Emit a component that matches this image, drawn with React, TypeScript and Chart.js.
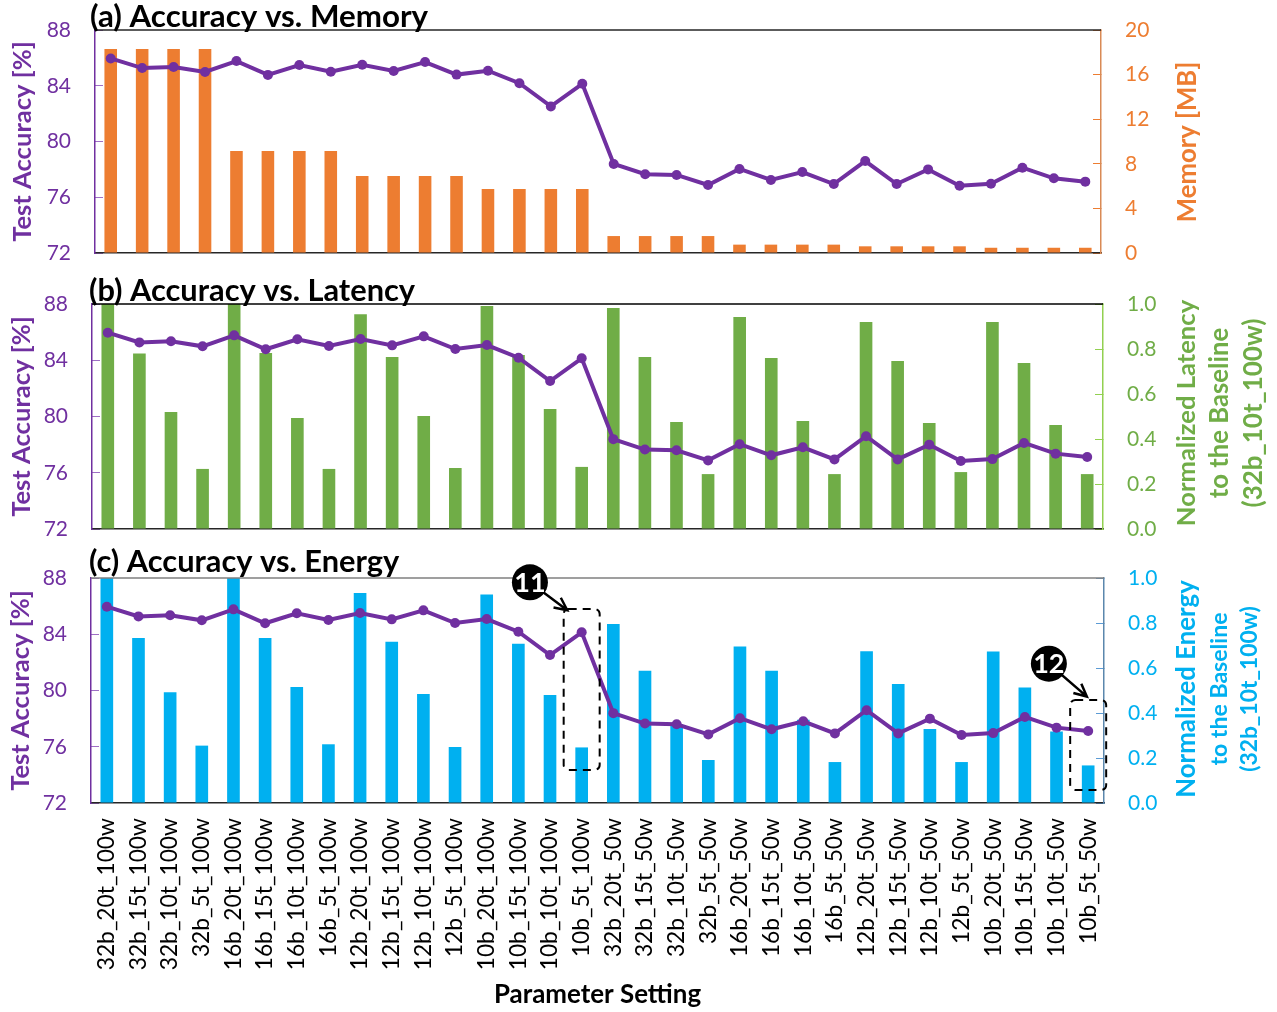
import React, { useEffect, useRef } from "react";
import { Chart, registerables } from "chart.js";

Chart.register(...registerables);

const FONT = "Lato";
const PURPLE = "#7030A0";
const ORANGE = "#ED7D31";
const GREEN = "#70AD47";
const BLUE = "#00B0F0";
const SHIFT = 60;

const categories = [
  "32b_20t_100w","32b_15t_100w","32b_10t_100w","32b_5t_100w",
  "16b_20t_100w","16b_15t_100w","16b_10t_100w","16b_5t_100w",
  "12b_20t_100w","12b_15t_100w","12b_10t_100w","12b_5t_100w",
  "10b_20t_100w","10b_15t_100w","10b_10t_100w","10b_5t_100w",
  "32b_20t_50w","32b_15t_50w","32b_10t_50w","32b_5t_50w",
  "16b_20t_50w","16b_15t_50w","16b_10t_50w","16b_5t_50w",
  "12b_20t_50w","12b_15t_50w","12b_10t_50w","12b_5t_50w",
  "10b_20t_50w","10b_15t_50w","10b_10t_50w","10b_5t_50w",
];

const accuracy = [
  85.96, 85.27, 85.35, 84.99, 85.77, 84.78, 85.49, 85.01,
  85.51, 85.06, 85.7, 84.8, 85.08, 84.18, 82.52, 84.14,
  78.39, 77.65, 77.6, 76.88, 78.03, 77.24, 77.81, 76.95,
  78.6, 76.95, 78.0, 76.83, 76.97, 78.12, 77.36, 77.12,
];

const memory = [
  18.3, 18.3, 18.3, 18.3, 9.15, 9.15, 9.15, 9.15,
  6.9, 6.9, 6.9, 6.9, 5.74, 5.74, 5.74, 5.74,
  1.52, 1.52, 1.52, 1.52, 0.75, 0.75, 0.75, 0.75,
  0.6, 0.6, 0.6, 0.6, 0.47, 0.47, 0.47, 0.47,
];

const latency = [
  1.0, 0.78, 0.52, 0.267, 1.0, 0.782, 0.493, 0.267,
  0.955, 0.764, 0.502, 0.271, 0.991, 0.773, 0.533, 0.276,
  0.982, 0.764, 0.476, 0.244, 0.942, 0.76, 0.48, 0.244,
  0.92, 0.747, 0.471, 0.253, 0.92, 0.738, 0.462, 0.244,
];

const energy = [
  1.0, 0.733, 0.492, 0.255, 1.0, 0.733, 0.516, 0.261,
  0.933, 0.717, 0.484, 0.249, 0.927, 0.708, 0.48, 0.247,
  0.796, 0.588, 0.35, 0.191, 0.696, 0.588, 0.37, 0.182,
  0.675, 0.529, 0.329, 0.182, 0.673, 0.513, 0.318, 0.167,
];

const panelTitles = ["(a) Accuracy vs. Memory", "(b) Accuracy vs. Latency", "(c) Accuracy vs. Energy"];
const leftAxisTitle = "Test Accuracy [%]";
const bottomAxisTitle = "Parameter Setting";
const memoryTitle = ["Memory [MB]"];
const latencyTitle = ["Normalized Latency", "to the Baseline", "(32b_10t_100w)"];
const energyTitle = ["Normalized Energy", "to the Baseline", "(32b_10t_100w)"];

type Callout = { label: string; cat: number; top: number; bottom: number; cx: number; cy: number; tipX: number; tipY: number };
const callouts: Callout[] = [
  { label: "11", cat: 15, top: 0.862, bottom: 0.147, cx: -51.75, cy: 0.981, tipX: -14.4, tipY: 0.857 },
  { label: "12", cat: 31, top: 0.458, bottom: 0.058, cx: -39.3, cy: 0.619, tipX: -1.3, tipY: 0.473 },
];

type Panel = {
  title: string; titleY: number; titleSize: number; titleX: number;
  left: number; right: number; top: number; bottom: number;
  bars: number[]; barColor: string; max: number; step: number; decimals: number;
  rightBorder: string; rightTick: string; topLine: string;
  rightColor: string;
  rightTitle: string[]; rightX: number[]; rightY: number; rightSize: number[];
  leftTitleTop: number;
  showX: boolean; callouts: Callout[];
};

const panels: Panel[] = [
  {
    title: panelTitles[0], titleY: 27, titleSize: 31.3, titleX: 90, left: 95, right: 1101, top: 30, bottom: 253,
    bars: memory, barColor: ORANGE, max: 20, step: 4, decimals: 0,
    rightBorder: "#D98A55", rightTick: ORANGE, topLine: "#262626", rightColor: ORANGE,
    rightTitle: memoryTitle, rightX: [1188], rightY: 142, rightSize: [25.7], leftTitleTop: 7,
    showX: false, callouts: [],
  },
  {
    title: panelTitles[1], titleY: 301, titleSize: 30.8, titleX: 89, left: 92, right: 1103, top: 304, bottom: 529,
    bars: latency, barColor: GREEN, max: 1, step: 0.2, decimals: 1,
    rightBorder: "#92D050", rightTick: "#92D050", topLine: "#000000", rightColor: GREEN,
    rightTitle: latencyTitle, rightX: [1187, 1220, 1254], rightY: 413, rightSize: [25.6, 25.7, 26], leftTitleTop: 6,
    showX: false, callouts: [],
  },
  {
    title: panelTitles[2], titleY: 572, titleSize: 30.8, titleX: 89, left: 91, right: 1104, top: 578, bottom: 803,
    bars: energy, barColor: BLUE, max: 1, step: 0.2, decimals: 1,
    rightBorder: "#5B87AD", rightTick: "#5B9BD5", topLine: "#7F7F7F", rightColor: BLUE,
    rightTitle: energyTitle, rightX: [1187, 1220, 1250], rightY: 689, rightSize: [25.8, 23.1, 22.8], leftTitleTop: 5,
    showX: true, callouts,
  },
];

const overlay = {
  id: "overlay",
  afterDraw(chart: any, _a: any, opts: any) {
    const p: Panel = opts.panel;
    const { ctx, chartArea, scales } = chart;
    ctx.save();
    ctx.strokeStyle = p.topLine;
    ctx.lineWidth = 1.5;
    ctx.beginPath();
    ctx.moveTo(chartArea.left, chartArea.top);
    ctx.lineTo(chartArea.right, chartArea.top);
    ctx.stroke();

    ctx.fillStyle = "#000";
    ctx.font = `bold ${p.titleSize}px ${FONT}`;
    ctx.textAlign = "left";
    ctx.textBaseline = "alphabetic";
    ctx.fillText(p.title, p.titleX, p.titleY + SHIFT);

    p.rightTitle.forEach((t, i) => {
      ctx.save();
      ctx.translate(p.rightX[i], p.rightY + SHIFT);
      ctx.rotate(-Math.PI / 2);
      ctx.fillStyle = p.rightColor;
      ctx.font = `bold ${p.rightSize[i]}px ${FONT}`;
      ctx.textAlign = "center";
      ctx.textBaseline = "middle";
      ctx.fillText(t, 0, 0);
      ctx.restore();
    });

    p.callouts.forEach((c) => {
      const xc = scales.x.getPixelForValue(c.cat);
      const y = scales.y1;
      const hw = 18;
      const top = y.getPixelForValue(c.top);
      const bot = y.getPixelForValue(c.bottom);
      ctx.setLineDash([8, 6]);
      ctx.strokeStyle = "#000";
      ctx.lineWidth = 2;
      ctx.beginPath();
      ctx.roundRect(xc - hw, top, hw * 2, bot - top, 5);
      ctx.stroke();
      ctx.setLineDash([]);

      const cx = xc + c.cx;
      const cy = y.getPixelForValue(c.cy);
      const tx = xc + c.tipX;
      const ty = y.getPixelForValue(c.tipY);
      const ang = Math.atan2(ty - cy, tx - cx);
      ctx.lineWidth = 2.5;
      ctx.beginPath();
      ctx.moveTo(cx, cy);
      ctx.lineTo(tx, ty);
      ctx.moveTo(tx - 14 * Math.cos(ang - 0.45), ty - 14 * Math.sin(ang - 0.45));
      ctx.lineTo(tx, ty);
      ctx.lineTo(tx - 14 * Math.cos(ang + 0.45), ty - 14 * Math.sin(ang + 0.45));
      ctx.stroke();

      ctx.fillStyle = "#000";
      ctx.beginPath();
      ctx.arc(cx, cy, 18, 0, Math.PI * 2);
      ctx.fill();
      ctx.fillStyle = "#fff";
      ctx.font = `bold 27px ${FONT}`;
      ctx.textAlign = "center";
      ctx.textBaseline = "middle";
      ctx.fillText(c.label, cx, cy + 1);
    });
    ctx.restore();
  },
};

function makeChart(canvas: HTMLCanvasElement, p: Panel) {
  return new Chart(canvas, {
    type: "bar",
    plugins: [overlay],
    data: {
      labels: categories,
      datasets: [
        {
          type: "line",
          data: accuracy,
          yAxisID: "y",
          order: 0,
          borderColor: PURPLE,
          backgroundColor: PURPLE,
          borderWidth: 4,
          pointRadius: 5,
          pointBackgroundColor: PURPLE,
          pointBorderWidth: 0,
          tension: 0,
        },
        {
          type: "bar",
          data: p.bars,
          yAxisID: "y1",
          order: 1,
          backgroundColor: p.barColor,
          barPercentage: 0.4,
          categoryPercentage: 1,
        },
      ],
    } as any,
    options: {
      responsive: false,
      animation: false,
      events: [],
      layout: {
        autoPadding: false,
        padding: { top: p.top + SHIFT, bottom: p.showX ? 0 : 1012 - p.bottom, left: 0, right: 0 },
      },
      plugins: {
        legend: { display: false },
        tooltip: { enabled: false },
        title: { display: false },
        overlay: { panel: p },
      } as any,
      scales: {
        x: {
          grid: { display: false, drawTicks: false },
          border: { display: true, color: "#262626", width: 1.5 },
          ticks: {
            display: p.showX,
            autoSkip: false,
            minRotation: 90,
            maxRotation: 90,
            padding: 15,
            color: "#000",
            font: { family: FONT, size: 22.8 },
          },
          title: {
            display: p.showX,
            text: bottomAxisTitle,
            color: "#000",
            font: { family: FONT, size: 25.9, weight: "bold" },
            padding: { top: 0, bottom: 1.5 },
          },
          afterFit: (s: any) => { s.height = p.showX ? 1012 - p.bottom : 0; },
        },
        y: {
          position: "left",
          min: 72,
          max: 88,
          ticks: { stepSize: 4, color: PURPLE, padding: 32, font: { family: FONT, size: 21 } },
          grid: { display: true, drawOnChartArea: false, drawTicks: true, tickLength: -8, tickColor: "#9E6FC4", tickWidth: 1 },
          border: { color: PURPLE, width: 1.5 },
          title: {
            display: true,
            text: leftAxisTitle,
            color: PURPLE,
            font: { family: FONT, size: 25.6, weight: "bold" },
            padding: { top: p.leftTitleTop, bottom: 0 },
          },
          afterFit: (s: any) => { s.width = p.left; },
        },
        y1: {
          position: "right",
          min: 0,
          max: p.max,
          ticks: {
            stepSize: p.step,
            color: p.rightColor,
            padding: 32,
            font: { family: FONT, size: 21 },
            callback: (v: any) => Number(v).toFixed(p.decimals),
          },
          grid: { display: true, drawOnChartArea: false, drawTicks: true, tickLength: -8, tickColor: p.rightTick, tickWidth: 1 },
          border: { color: p.rightBorder, width: 1.5 },
          afterFit: (s: any) => { s.width = 1277 - p.right; },
        },
      },
    } as any,
  });
}

function PanelChart({ panel }: { panel: Panel }) {
  const ref = useRef<HTMLCanvasElement>(null);
  useEffect(() => {
    const c = makeChart(ref.current!, panel);
    return () => c.destroy();
  }, [panel]);
  return (
    <canvas
      ref={ref}
      width={1277}
      height={1012 + SHIFT}
      style={{ position: "absolute", left: 0, top: -SHIFT, display: "block" }}
    />
  );
}

export default function App() {
  return (
    <div style={{ position: "absolute", left: 0, top: 0, width: 1277, height: 1012, overflow: "hidden", background: "#fff" }}>
      {panels.map((p) => (
        <PanelChart key={p.title} panel={p} />
      ))}
    </div>
  );
}
